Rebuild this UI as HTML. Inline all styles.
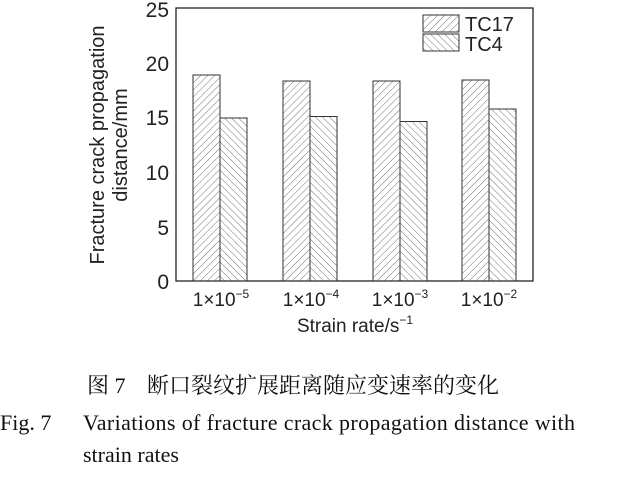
<!DOCTYPE html>
<html><head><meta charset="utf-8"><style>
html,body{margin:0;padding:0;background:#fff;width:628px;height:481px;overflow:hidden}
</style></head><body>
<svg width="628" height="481" xmlns="http://www.w3.org/2000/svg">
<defs>
<pattern id="p1" patternUnits="userSpaceOnUse" width="5" height="5" patternTransform="rotate(45)">
<line x1="0" y1="0" x2="0" y2="5" stroke="#666" stroke-width="0.9"/></pattern>
<pattern id="p2" patternUnits="userSpaceOnUse" width="5" height="5" patternTransform="rotate(-45)">
<line x1="0" y1="0" x2="0" y2="5" stroke="#666" stroke-width="0.9"/></pattern>
</defs>
<rect x="176" y="8" width="357" height="273" fill="none" stroke="#222" stroke-width="1.3"/>
<g stroke="#333" stroke-width="1">
<rect x="193" y="75" width="27" height="206" fill="url(#p1)"/>
<rect x="220" y="118" width="27" height="163" fill="url(#p2)"/>
<rect x="283" y="81" width="27" height="200" fill="url(#p1)"/>
<rect x="310" y="116.5" width="27" height="164.5" fill="url(#p2)"/>
<rect x="373" y="81" width="27" height="200" fill="url(#p1)"/>
<rect x="400" y="121.5" width="27" height="159.5" fill="url(#p2)"/>
<rect x="462" y="80" width="27" height="201" fill="url(#p1)"/>
<rect x="489" y="109" width="27" height="172" fill="url(#p2)"/>
<rect x="423" y="15" width="36" height="17" fill="url(#p1)"/>
<rect x="423" y="34" width="36" height="17" fill="url(#p2)"/>
</g>
<g font-family="Liberation Sans, Arial, sans-serif" fill="#222">
<text x="465" y="31" font-size="20">TC17</text>
<text x="465" y="51" font-size="20">TC4</text>
<g font-size="21" text-anchor="end">
<text x="169" y="289">0</text>
<text x="169" y="235">5</text>
<text x="169" y="180">10</text>
<text x="169" y="125">15</text>
<text x="169" y="71">20</text>
<text x="169" y="17">25</text>
</g>
<g font-size="19" text-anchor="middle">
<text x="221" y="306">1×10<tspan dy="-8" font-size="12">−5</tspan></text>
<text x="311" y="306">1×10<tspan dy="-8" font-size="12">−4</tspan></text>
<text x="400" y="306">1×10<tspan dy="-8" font-size="12">−3</tspan></text>
<text x="489" y="306">1×10<tspan dy="-8" font-size="12">−2</tspan></text>
<text x="355" y="332">Strain rate/s<tspan dy="-8" font-size="12">−1</tspan></text>
</g>
<g font-size="20" text-anchor="middle">
<text transform="translate(104,145) rotate(-90)">Fracture crack propagation</text>
<text transform="translate(127,145) rotate(-90)">distance/mm</text>
</g>
</g>
<g font-family="Liberation Serif, 'Noto Serif CJK SC', serif" fill="#111">
<text x="87" y="393" font-size="22">图 7<tspan x="147">断口裂纹扩展距离随应变速率的变化</tspan></text>
<text x="0" y="430" font-size="22">Fig. 7</text>
<text x="83" y="430" font-size="22" textLength="492">Variations of fracture crack propagation distance with</text>
<text x="83" y="462" font-size="22">strain rates</text>
</g>
</svg>
</body></html>
